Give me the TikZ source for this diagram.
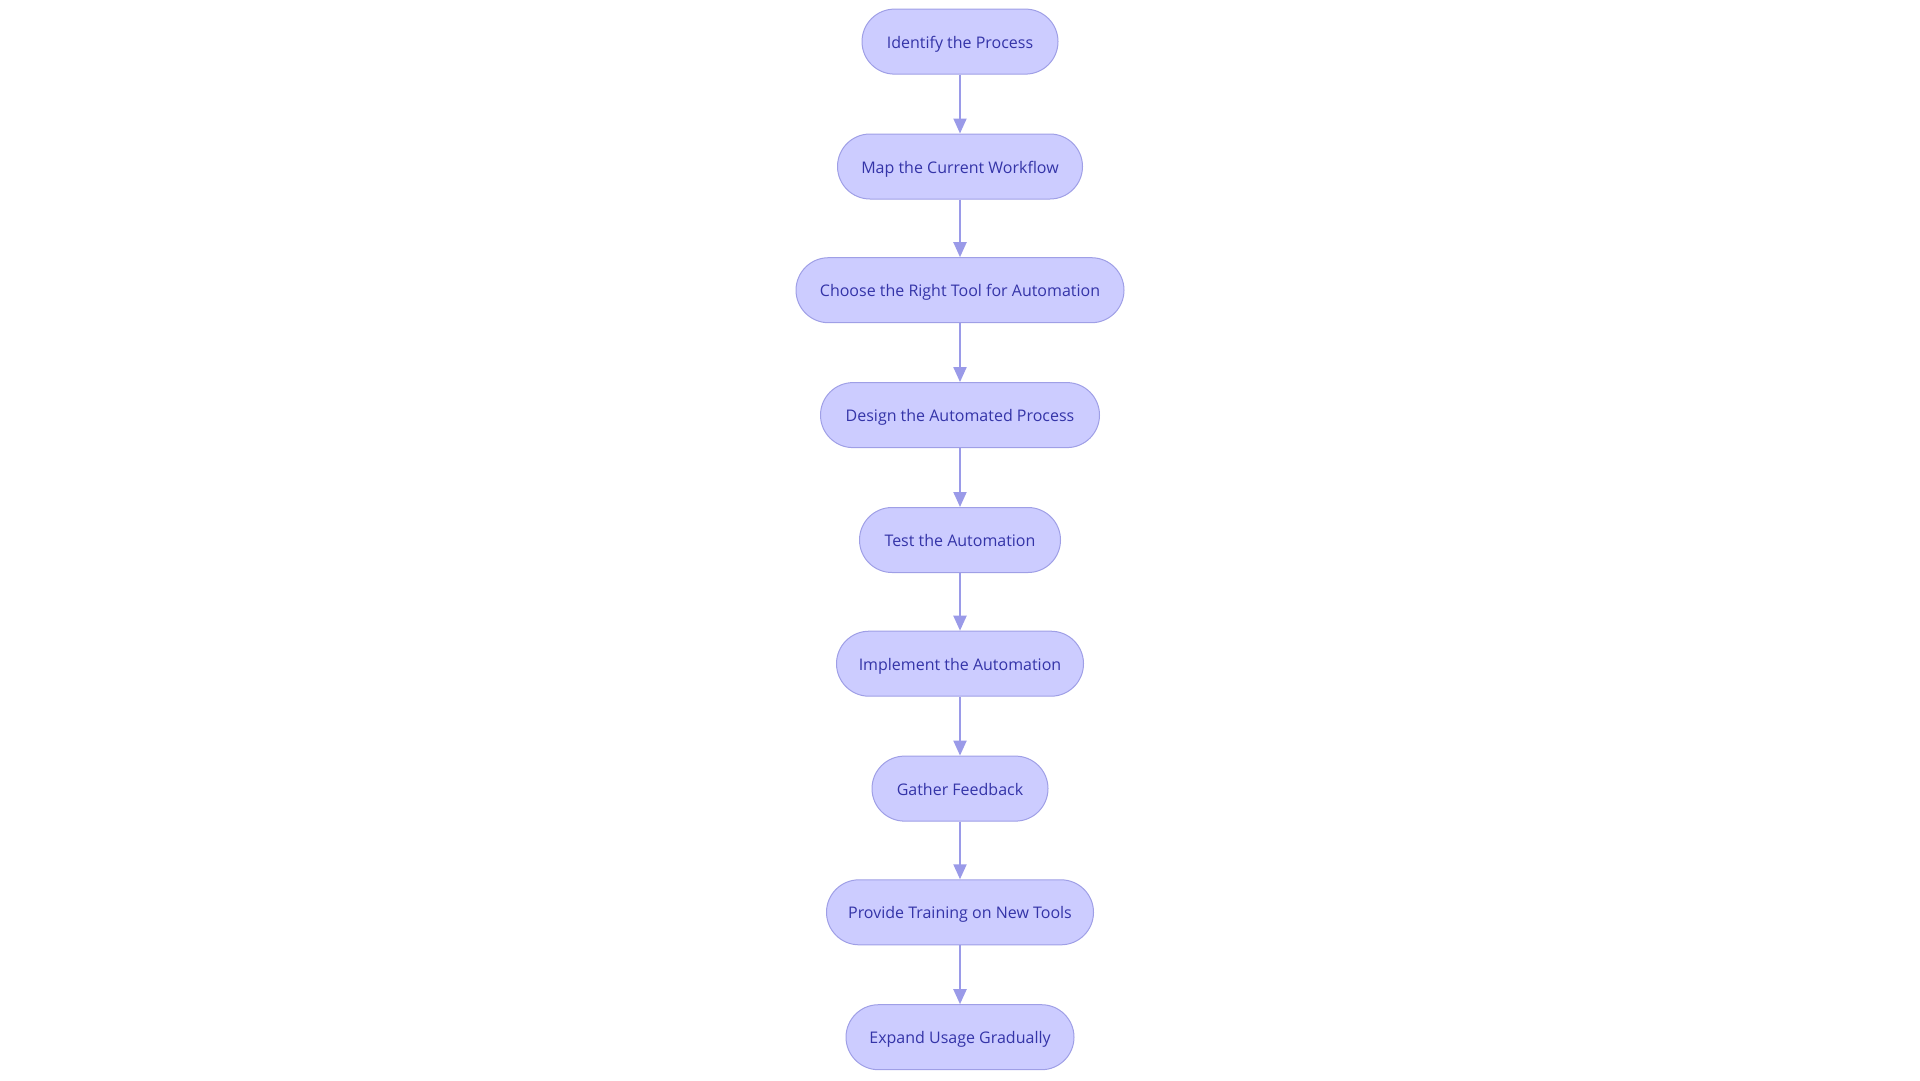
\documentclass[tikz,border=0pt]{standalone}
\usepackage{fontspec}
\setmainfont{Open Sans}
\usetikzlibrary{arrows.meta}
\definecolor{nodefill}{HTML}{CCCCFF}
\definecolor{nodedraw}{HTML}{9F9FE6}
\definecolor{nodetext}{HTML}{3434A8}
\definecolor{edgecol}{HTML}{9A9AE8}
\begin{document}
\begin{tikzpicture}[x=1pt,y=-1pt,
  stepbox/.style={draw=nodedraw, fill=nodefill, line width=1pt, rounded corners=32.5pt,
    minimum height=65pt, inner sep=0pt, text height=14pt, text depth=1pt, text=nodetext,
    font=\fontsize{16}{20}\selectfont},
  flow/.style={draw=edgecol, line width=2pt, -{Triangle[length=15pt,width=13pt]}}]
\useasboundingbox (0,0) rectangle (1920,1080);
\node[stepbox, minimum width=196pt] (n1) at (960,41.6) {Identify the Process};
\node[stepbox, minimum width=245pt] (n2) at (960,166.5) {Map the Current Workflow};
\node[stepbox, minimum width=328pt] (n3) at (960,290.2) {Choose the Right Tool for Automation};
\node[stepbox, minimum width=279pt] (n4) at (960,415.1) {Design the Automated Process};
\node[stepbox, minimum width=201pt] (n5) at (960,540) {Test the Automation};
\node[stepbox, minimum width=247pt] (n6) at (960,663.7) {Implement the Automation};
\node[stepbox, minimum width=176pt] (n7) at (960,788.6) {Gather Feedback};
\node[stepbox, minimum width=267pt] (n8) at (960,912.3) {Provide Training on New Tools};
\node[stepbox, minimum width=228pt] (n9) at (960,1037.2) {Expand Usage Gradually};
\foreach \a/\b in {n1/n2,n2/n3,n3/n4,n4/n5,n5/n6,n6/n7,n7/n8,n8/n9}
  \draw[flow] (\a.south) -- (\b.north);
\end{tikzpicture}
\end{document}
